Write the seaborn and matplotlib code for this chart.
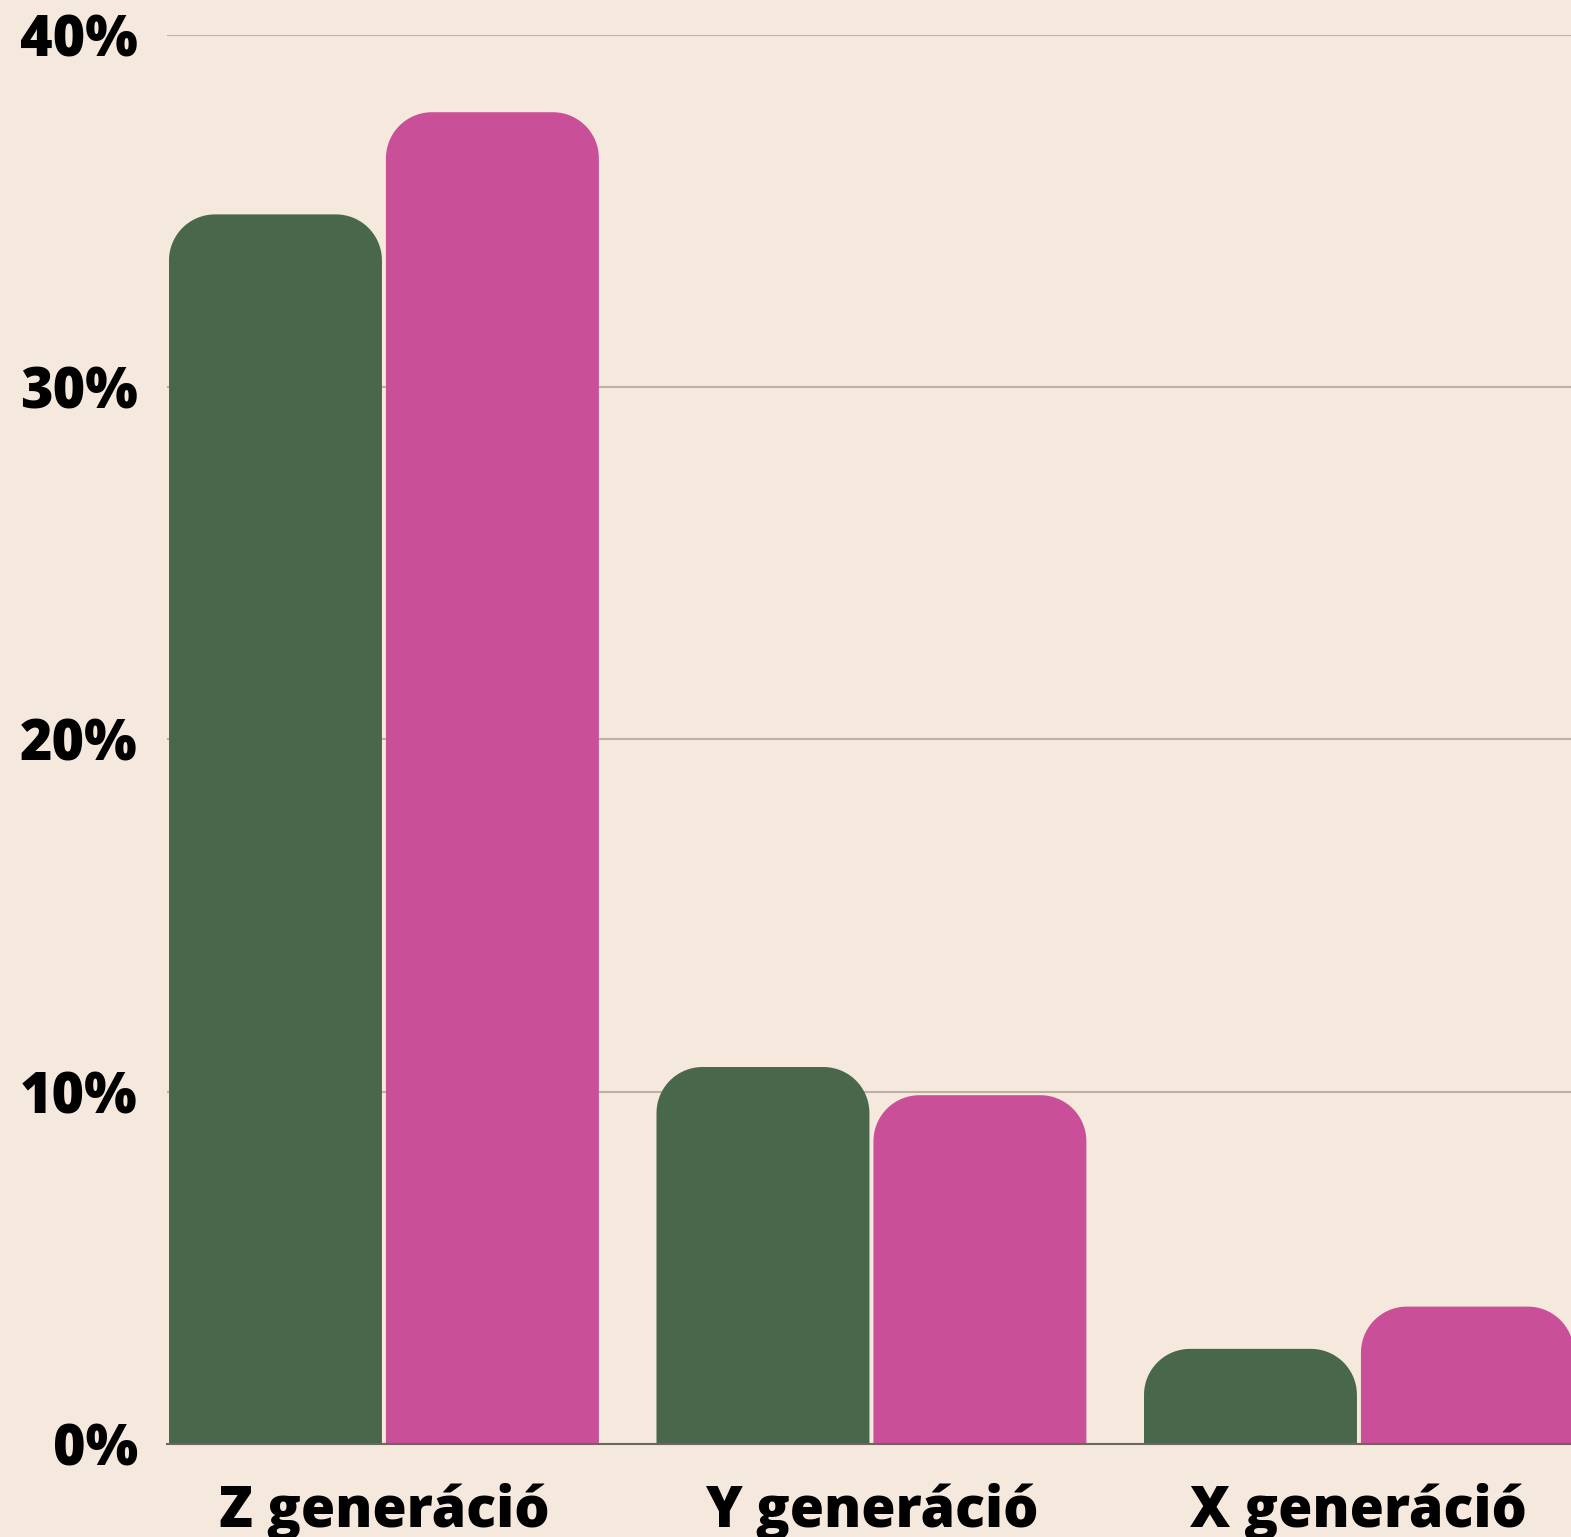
import numpy as np
import pandas as pd
import matplotlib
matplotlib.use("Agg")
import matplotlib.pyplot as plt
from matplotlib.patches import Polygon
import seaborn as sns

# data
generations = ["Z generáció", "Y generáció", "X generáció"]
series = ["A", "B"]
values_a = [34.9, 10.7, 2.7]
values_b = [37.8, 9.9, 3.9]
y_ticks = [0, 10, 20, 30, 40]
y_tick_labels = ["0%", "10%", "20%", "30%", "40%"]

BG = "#f5e9de"
GREEN = "#48674b"
PINK = "#c94f98"

df = pd.DataFrame({
    "gen": generations * 2,
    "series": [series[0]] * 3 + [series[1]] * 3,
    "value": values_a + values_b,
})

sns.set_theme(style="white")
plt.rcParams["font.family"] = ["Open Sans", "DejaVu Sans"]

W, H = 1571, 1537
fig = plt.figure(figsize=(W / 100, H / 100), dpi=100, facecolor=BG)
ax = fig.add_axes([167 / W, (H - 1444) / H, (W - 167) / W, (1444 - 34.7) / H])
ax.set_facecolor(BG)

sns.barplot(data=df, x="gen", y="value", hue="series", order=generations,
            palette=[GREEN, PINK], saturation=1, width=0.89, dodge=True,
            legend=False, linewidth=0, ax=ax, zorder=2)

ax.set_xlim(-0.445, 2.435)
ax.set_ylim(0, 40)
ax.set_yticks(y_ticks)
ax.set_yticklabels(y_tick_labels)
ax.yaxis.grid(True, color="#bcb0a8", linewidth=1.5, zorder=0)
ax.set_axisbelow(True)
ax.set_xlabel("")
ax.set_ylabel("")
for s in ["top", "right", "left"]:
    ax.spines[s].set_visible(False)
ax.spines["bottom"].set_color("#6e6560")
ax.spines["bottom"].set_linewidth(1.5)
ax.spines["bottom"].set_zorder(3)
ax.tick_params(axis="both", length=0)
ax.tick_params(axis="y", pad=21)
ax.tick_params(axis="x", pad=28)
for lab in ax.get_yticklabels() + ax.get_xticklabels():
    lab.set_fontsize(40)
    lab.set_fontweight("heavy")
    lab.set_color("black")

# rounded tops built from seaborn's bar geometry (in pixel space)
fig.canvas.draw()
tr = ax.transData
inv = tr.inverted()
radius = 46
gap = 2
for p in list(ax.patches):
    x0, y0 = p.get_x(), p.get_y()
    w, h = p.get_width(), p.get_height()
    if h <= 0:
        continue
    (X0, Y0) = tr.transform((x0, y0))
    (X1, Y1) = tr.transform((x0 + w, y0 + h))
    X0 += gap
    X1 -= gap
    r = min(radius, (X1 - X0) / 2, Y1 - Y0)
    pts = [(X0, Y0), (X0, Y1 - r)]
    for t in np.linspace(np.pi, np.pi / 2, 20):
        pts.append((X0 + r + r * np.cos(t), Y1 - r + r * np.sin(t)))
    for t in np.linspace(np.pi / 2, 0, 20):
        pts.append((X1 - r + r * np.cos(t), Y1 - r + r * np.sin(t)))
    pts.append((X1, Y0))
    data_pts = inv.transform(np.array(pts))
    poly = Polygon(data_pts, closed=True, facecolor=p.get_facecolor(),
                   edgecolor="none", zorder=2)
    ax.add_patch(poly)
    p.remove()

fig.savefig("out.png", dpi=100, facecolor=BG)
